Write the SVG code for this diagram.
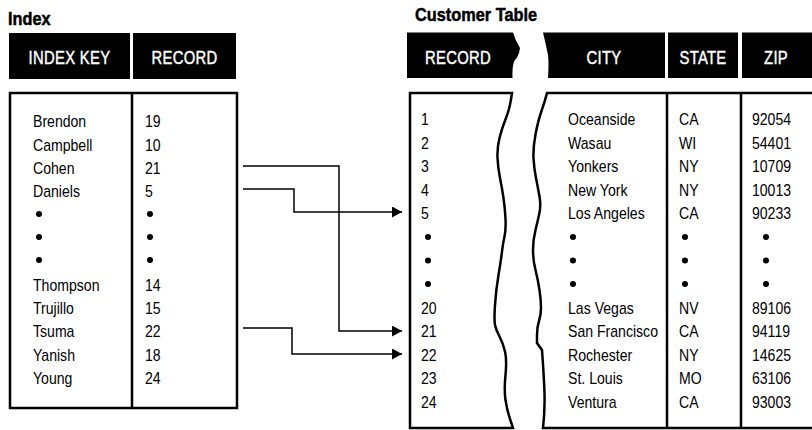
<svg xmlns="http://www.w3.org/2000/svg" width="812" height="430" viewBox="0 0 812 430">
  <style>
    text { font-family: "Liberation Sans", Arial, sans-serif; fill: #000; }
    .title { font-size: 19px; font-weight: bold; stroke: #000; stroke-width: 0.5px; }
    .hdr { font-size: 19px; fill: #fff; stroke: #fff; stroke-width: 0.45px; text-anchor: middle; letter-spacing: 0.4px; }
    .cell { font-size: 16px; }
    .hbox { fill: #000; }
    .frame { fill: none; stroke: #000; stroke-width: 2.5; }
    .link { fill: none; stroke: #000; stroke-width: 1.5; }
    .dot { fill: #000; }
  </style>
  <defs>
    <marker id="arrow" markerUnits="userSpaceOnUse" markerWidth="11" markerHeight="11" refX="10" refY="5.5" orient="auto">
      <path d="M0,0 L10,5.5 L0,11 Z" fill="#000"/>
    </marker>
  </defs>

  <rect width="812" height="430" fill="#fff"/>

  <!-- Index table -->
  <g id="index-table">
    <g transform="scale(0.86 1)">
      <text class="title" x="9.3" y="25">Index</text>
    </g>
    <rect class="hbox" x="9" y="33" width="121" height="46"/>
    <rect class="hbox" x="133" y="33" width="103" height="46"/>
    <g transform="scale(0.78 1)">
      <text class="hdr" x="89.1" y="64">INDEX KEY</text>
      <text class="hdr" x="236.5" y="64">RECORD</text>
    </g>
    <rect class="frame" x="10" y="93" width="227" height="315"/>
    <line class="frame" x1="132" y1="93" x2="132" y2="408"/>
    <!-- condensed cell text: x values are divided by the 0.88 horizontal scale -->
    <g transform="scale(0.88 1)">
      <text class="cell" x="37.5" y="127.5">Brendon</text>
      <text class="cell" x="37.5" y="150.8">Campbell</text>
      <text class="cell" x="37.5" y="174.2">Cohen</text>
      <text class="cell" x="37.5" y="197.5">Daniels</text>
      <text class="cell" x="37.5" y="290.8">Thompson</text>
      <text class="cell" x="37.5" y="314.2">Trujillo</text>
      <text class="cell" x="37.5" y="337.5">Tsuma</text>
      <text class="cell" x="37.5" y="360.8">Yanish</text>
      <text class="cell" x="37.5" y="384.2">Young</text>
      <text class="cell" x="164.8" y="127.5">19</text>
      <text class="cell" x="164.8" y="150.8">10</text>
      <text class="cell" x="164.8" y="174.2">21</text>
      <text class="cell" x="164.8" y="197.5">5</text>
      <text class="cell" x="164.8" y="290.8">14</text>
      <text class="cell" x="164.8" y="314.2">15</text>
      <text class="cell" x="164.8" y="337.5">22</text>
      <text class="cell" x="164.8" y="360.8">18</text>
      <text class="cell" x="164.8" y="384.2">24</text>
    </g>
    <circle class="dot" cx="39" cy="214" r="3"/>
    <circle class="dot" cx="39" cy="237" r="3"/>
    <circle class="dot" cx="39" cy="260" r="3"/>
    <circle class="dot" cx="150" cy="214" r="3"/>
    <circle class="dot" cx="150" cy="237" r="3"/>
    <circle class="dot" cx="150" cy="260" r="3"/>
  </g>

  <!-- Customer table, RECORD column -->
  <g id="customer-record">
    <g transform="scale(0.86 1)">
      <text class="title" x="482.6" y="21">Customer Table</text>
    </g>
    <path class="hbox" d="M407,32.5 H513 Q515,40 520,48 Q519,56 515,60 Q512,64 512.5,78 H407 Z"/>
    <g transform="scale(0.78 1)">
      <text class="hdr" x="587.2" y="64">RECORD</text>
    </g>
    <path class="frame" d="M410,93 H512 Q510,108 506,118 Q502,128 499.5,138 Q497,148 497.5,158 Q498,168 500,178 Q502,188 503.5,198 Q505,208 505.5,219 Q506,230 504.5,236.5 Q503,243 502,251.5 Q501,260 498.5,275 Q496,290 495,305 Q494,320 495,325 Q496,330 499.5,336.5 Q503,343 505,351.5 Q507,360 505.5,375 Q504,390 505.5,400 Q507,410 510,419 L513,428 H410 Z"/>
    <g transform="scale(0.88 1)">
      <text class="cell" x="478.4" y="125.5">1</text>
      <text class="cell" x="478.4" y="149">2</text>
      <text class="cell" x="478.4" y="172.5">3</text>
      <text class="cell" x="478.4" y="196">4</text>
      <text class="cell" x="478.4" y="219.5">5</text>
      <text class="cell" x="478.4" y="314">20</text>
      <text class="cell" x="478.4" y="337.5">21</text>
      <text class="cell" x="478.4" y="361">22</text>
      <text class="cell" x="478.4" y="384.5">23</text>
      <text class="cell" x="478.4" y="408">24</text>
    </g>
    <circle class="dot" cx="428" cy="237" r="3"/>
    <circle class="dot" cx="428" cy="260.5" r="3"/>
    <circle class="dot" cx="428" cy="284" r="3"/>
  </g>

  <!-- Customer table, CITY / STATE / ZIP columns -->
  <g id="customer-fields">
    <path class="hbox" d="M543,32.5 H665 V78 H548 Q549,62 548,55 Q546,45 543,32.5 Z"/>
    <rect class="hbox" x="668" y="32.5" width="70" height="45.5"/>
    <rect class="hbox" x="742" y="32.5" width="72" height="45.5"/>
    <g transform="scale(0.78 1)">
      <text class="hdr" x="774.4" y="64">CITY</text>
      <text class="hdr" x="901.3" y="64">STATE</text>
      <text class="hdr" x="994.9" y="64">ZIP</text>
    </g>
    <path class="frame" d="M814,93 H547 Q545,101 541.5,111 Q538,121 535.5,134.5 Q533,148 533.5,158 Q534,168 536,178 Q538,188 539.5,196.5 Q541,205 539.5,212.5 Q538,220 535.5,230 Q533,240 533,250 Q533,260 535.5,270 Q538,280 539.5,290 Q541,300 541,307.5 Q541,315 539,321 Q537,327 537,335 L537,343 L542,350 Q544,377 544.5,393.5 Q545,410 543,428 H814"/>
    <line class="frame" x1="667" y1="93" x2="667" y2="428"/>
    <line class="frame" x1="741" y1="93" x2="741" y2="428"/>

    <g transform="scale(0.88 1)">
      <text class="cell" x="645.5" y="125.5">Oceanside</text>
      <text class="cell" x="645.5" y="149">Wasau</text>
      <text class="cell" x="645.5" y="172.5">Yonkers</text>
      <text class="cell" x="645.5" y="196">New York</text>
      <text class="cell" x="645.5" y="219.5">Los Angeles</text>
      <text class="cell" x="645.5" y="314">Las Vegas</text>
      <text class="cell" x="645.5" y="337.5">San Francisco</text>
      <text class="cell" x="645.5" y="361">Rochester</text>
      <text class="cell" x="645.5" y="384.5">St. Louis</text>
      <text class="cell" x="645.5" y="408">Ventura</text>

      <text class="cell" x="771.6" y="125.5">CA</text>
      <text class="cell" x="771.6" y="149">WI</text>
      <text class="cell" x="771.6" y="172.5">NY</text>
      <text class="cell" x="771.6" y="196">NY</text>
      <text class="cell" x="771.6" y="219.5">CA</text>
      <text class="cell" x="771.6" y="314">NV</text>
      <text class="cell" x="771.6" y="337.5">CA</text>
      <text class="cell" x="771.6" y="361">NY</text>
      <text class="cell" x="771.6" y="384.5">MO</text>
      <text class="cell" x="771.6" y="408">CA</text>

      <text class="cell" x="854.5" y="125.5">92054</text>
      <text class="cell" x="854.5" y="149">54401</text>
      <text class="cell" x="854.5" y="172.5">10709</text>
      <text class="cell" x="854.5" y="196">10013</text>
      <text class="cell" x="854.5" y="219.5">90233</text>
      <text class="cell" x="854.5" y="314">89106</text>
      <text class="cell" x="854.5" y="337.5">94119</text>
      <text class="cell" x="854.5" y="361">14625</text>
      <text class="cell" x="854.5" y="384.5">63106</text>
      <text class="cell" x="854.5" y="408">93003</text>
    </g>

    <circle class="dot" cx="573" cy="237" r="3"/>
    <circle class="dot" cx="573" cy="260.5" r="3"/>
    <circle class="dot" cx="573" cy="284" r="3"/>
    <circle class="dot" cx="685" cy="237" r="3"/>
    <circle class="dot" cx="685" cy="260.5" r="3"/>
    <circle class="dot" cx="685" cy="284" r="3"/>
    <circle class="dot" cx="766" cy="237" r="3"/>
    <circle class="dot" cx="766" cy="260.5" r="3"/>
    <circle class="dot" cx="766" cy="284" r="3"/>
  </g>

  <!-- Index entries pointing to customer records -->
  <g id="connectors">
    <path class="link" d="M243,166 H339 V331 H402" marker-end="url(#arrow)"/>
    <path class="link" d="M243,189 H294 V212 H402" marker-end="url(#arrow)"/>
    <path class="link" d="M243,328 H292 V354 H402" marker-end="url(#arrow)"/>
  </g>
</svg>
